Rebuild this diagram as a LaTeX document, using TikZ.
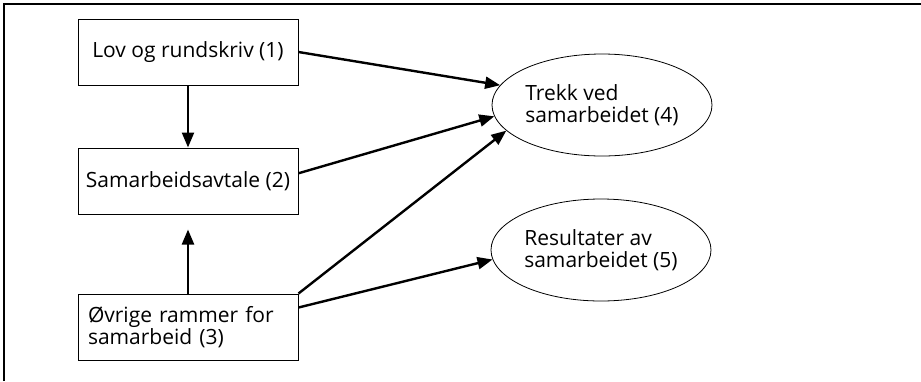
\documentclass[tikz,border=0pt]{standalone}
\usepackage{fontspec}
\setmainfont{Open Sans}
\usetikzlibrary{shapes,arrows.meta,positioning}

\begin{document}
\begin{tikzpicture}[
    x=0.5pt, y=-0.5pt,
    every node/.style={font=\fontsize{10.5}{11.2}\selectfont},
    box/.style={rectangle, draw, line width=0.5pt, minimum width=110pt, minimum height=33pt, inner xsep=2pt, inner ysep=4pt},
    leftbox/.style={box, text width=100pt, inner xsep=5pt, align=left},
    oval/.style={ellipse, draw, line width=0.4pt, minimum width=110pt, minimum height=51pt, inner sep=0pt, align=left},
    arrow/.style={-{Triangle[length=7.5pt,width=6pt]}, line width=1.2pt}
]
\useasboundingbox (0,0) rectangle (921,381);

% Frame
\draw[line width=1.3pt] (4,381) -- (4,4) -- (921,4);

% Boxes
\node[box] (lov) at (188,52) {Lov og rundskriv (1)};
\node[box, below=31pt of lov] (avtale) {Samarbeidsavtale (2)};
\node[leftbox, below=39.5pt of avtale] (rammer) {Øvrige rammer for\\samarbeid (3)};

% Ellipses
\node[oval] (trekk) at (602,105) {Trekk ved\\samarbeidet (4)};
\node[oval] (result) at (601,250) {Resultater av\\samarbeidet (5)};

% Arrows
\draw[arrow] (lov) -- (avtale);
\draw[arrow, shorten >=7.5pt] (rammer) -- (avtale);
\draw[arrow] (lov.east) -- (trekk.169);
\draw[arrow] (avtale.4) -- (trekk.186);
\draw[arrow] (rammer.north east) -- (trekk.195);
\draw[arrow] (rammer.10) -- (result.185);

\end{tikzpicture}
\end{document}
